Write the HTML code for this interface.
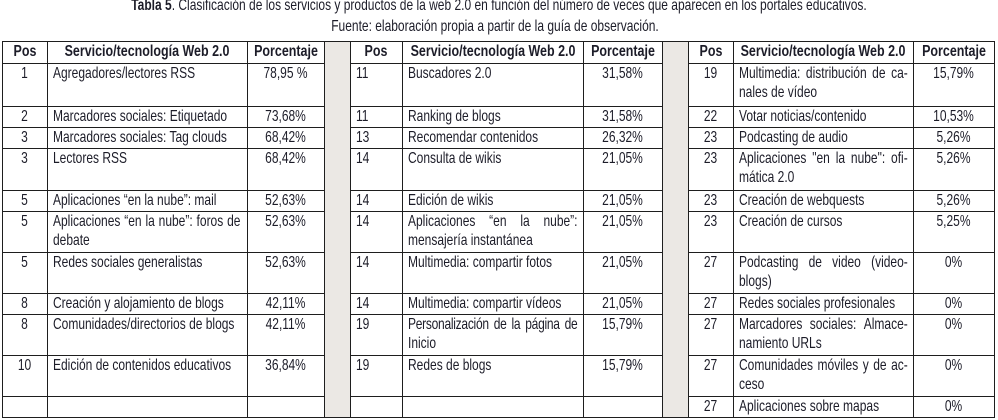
<!DOCTYPE html>
<html><head><meta charset="utf-8">
<style>
html,body{margin:0;padding:0;background:#fff;}
#w{position:relative;width:998px;height:420px;overflow:hidden;background:#fff;}
.t{position:absolute;font-family:"Liberation Sans",sans-serif;font-size:16px;line-height:18.5px;color:#1c1c28;white-space:nowrap;transform:scaleX(0.75);transform-origin:0 0;}
.c{text-align:center;transform-origin:50% 0;}
.h{font-weight:bold;text-align:center;transform:scaleX(0.78);transform-origin:50% 0;width:300px;}
.j{display:flex;justify-content:space-between;}
.hl{position:absolute;height:1px;background:#1e1e1e;}
.vl{position:absolute;width:1px;background:#1e1e1e;top:41px;height:377px;}
.g{position:absolute;background:#ebe8e4;top:41px;height:376px;width:26px;}
.ti{position:absolute;left:0;width:998px;text-align:center;font-family:"Liberation Sans",sans-serif;font-size:16px;line-height:18.5px;color:#1c1c28;white-space:nowrap;transform:scaleX(0.75);transform-origin:50% 0;}
</style></head><body><div id="w">

<div class="ti" style="top:-2.8px;left:-150px;width:1298px;"><b>Tabla 5</b>. Clasificación de los servicios y productos de la web 2.0 en función del número de veces que aparecen en los portales educativos.</div>
<div class="ti" style="top:18.2px;left:-4px;">Fuente: elaboración propia a partir de la guía de observación.</div>

<!-- gray bands -->
<div class="g" style="left:324px;"></div>
<div class="g" style="left:662px;"></div>

<!-- outer horizontal -->
<div class="hl" style="left:2px;width:993px;top:41px;"></div>
<div class="hl" style="left:2px;width:993px;top:417px;"></div>

<!-- panel horizontals -->
<div class="hl" style="left:2px;width:322px;top:63px;"></div><div class="hl" style="left:350px;width:312px;top:63px;"></div><div class="hl" style="left:688px;width:306px;top:63px;"></div>
<div class="hl" style="left:2px;width:322px;top:106px;"></div><div class="hl" style="left:350px;width:312px;top:106px;"></div><div class="hl" style="left:688px;width:306px;top:106px;"></div>
<div class="hl" style="left:2px;width:322px;top:127px;"></div><div class="hl" style="left:350px;width:312px;top:127px;"></div><div class="hl" style="left:688px;width:306px;top:127px;"></div>
<div class="hl" style="left:2px;width:322px;top:148px;"></div><div class="hl" style="left:350px;width:312px;top:148px;"></div><div class="hl" style="left:688px;width:306px;top:148px;"></div>
<div class="hl" style="left:2px;width:322px;top:190px;"></div><div class="hl" style="left:350px;width:312px;top:190px;"></div><div class="hl" style="left:688px;width:306px;top:190px;"></div>
<div class="hl" style="left:2px;width:322px;top:211px;"></div><div class="hl" style="left:350px;width:312px;top:211px;"></div><div class="hl" style="left:688px;width:306px;top:211px;"></div>
<div class="hl" style="left:2px;width:322px;top:252px;"></div><div class="hl" style="left:350px;width:312px;top:252px;"></div><div class="hl" style="left:688px;width:306px;top:252px;"></div>
<div class="hl" style="left:2px;width:322px;top:293px;"></div><div class="hl" style="left:350px;width:312px;top:293px;"></div><div class="hl" style="left:688px;width:306px;top:293px;"></div>
<div class="hl" style="left:2px;width:322px;top:314px;"></div><div class="hl" style="left:350px;width:312px;top:314px;"></div><div class="hl" style="left:688px;width:306px;top:314px;"></div>
<div class="hl" style="left:2px;width:322px;top:355px;"></div><div class="hl" style="left:350px;width:312px;top:355px;"></div><div class="hl" style="left:688px;width:306px;top:355px;"></div>
<div class="hl" style="left:2px;width:322px;top:396px;"></div><div class="hl" style="left:350px;width:312px;top:396px;"></div><div class="hl" style="left:688px;width:306px;top:396px;"></div>

<!-- verticals -->
<div class="vl" style="left:2px;"></div>
<div class="vl" style="left:47px;"></div>
<div class="vl" style="left:247px;"></div>
<div class="vl" style="left:324px;"></div>
<div class="vl" style="left:350px;"></div>
<div class="vl" style="left:402px;"></div>
<div class="vl" style="left:583px;"></div>
<div class="vl" style="left:662px;"></div>
<div class="vl" style="left:688px;"></div>
<div class="vl" style="left:733px;"></div>
<div class="vl" style="left:913px;"></div>
<div class="vl" style="left:994px;"></div>

<!-- headers (centered on column centers) -->
<div class="t h" style="left:-125.5px;top:43.2px;">Pos</div>
<div class="t h" style="left:-3px;top:43.2px;">Servicio/tecnología Web 2.0</div>
<div class="t h" style="left:135.5px;top:43.2px;">Porcentaje</div>
<div class="t h" style="left:226px;top:43.2px;">Pos</div>
<div class="t h" style="left:342.5px;top:43.2px;">Servicio/tecnología Web 2.0</div>
<div class="t h" style="left:472.5px;top:43.2px;">Porcentaje</div>
<div class="t h" style="left:560.5px;top:43.2px;">Pos</div>
<div class="t h" style="left:673px;top:43.2px;">Servicio/tecnología Web 2.0</div>
<div class="t h" style="left:803.5px;top:43.2px;">Porcentaje</div>

<!-- LEFT PANEL -->
<div class="t c" style="left:2px;width:45px;top:65.2px;">1</div>
<div class="t" style="left:53px;top:65.2px;">Agregadores/lectores RSS</div>
<div class="t c" style="left:247px;width:77px;top:65.2px;">78,95 %</div>

<div class="t c" style="left:2px;width:45px;top:108.2px;">2</div>
<div class="t" style="left:53px;top:108.2px;">Marcadores sociales: Etiquetado</div>
<div class="t c" style="left:247px;width:77px;top:108.2px;">73,68%</div>

<div class="t c" style="left:2px;width:45px;top:129.2px;">3</div>
<div class="t" style="left:53px;top:129.2px;">Marcadores sociales: Tag clouds</div>
<div class="t c" style="left:247px;width:77px;top:129.2px;">68,42%</div>

<div class="t c" style="left:2px;width:45px;top:150.2px;">3</div>
<div class="t" style="left:53px;top:150.2px;">Lectores RSS</div>
<div class="t c" style="left:247px;width:77px;top:150.2px;">68,42%</div>

<div class="t c" style="left:2px;width:45px;top:192.2px;">5</div>
<div class="t" style="left:53px;top:192.2px;">Aplicaciones “en la nube”: mail</div>
<div class="t c" style="left:247px;width:77px;top:192.2px;">52,63%</div>

<div class="t c" style="left:2px;width:45px;top:213.2px;">5</div>
<div class="t j" style="left:53px;width:250px;top:213.2px;"><span>Aplicaciones</span><span>“en</span><span>la</span><span>nube”:</span><span>foros</span><span>de</span></div>
<div class="t" style="left:53px;top:231.7px;">debate</div>
<div class="t c" style="left:247px;width:77px;top:213.2px;">52,63%</div>

<div class="t c" style="left:2px;width:45px;top:254.2px;">5</div>
<div class="t" style="left:53px;top:254.2px;">Redes sociales generalistas</div>
<div class="t c" style="left:247px;width:77px;top:254.2px;">52,63%</div>

<div class="t c" style="left:2px;width:45px;top:295.2px;">8</div>
<div class="t" style="left:53px;top:295.2px;">Creación y alojamiento de blogs</div>
<div class="t c" style="left:247px;width:77px;top:295.2px;">42,11%</div>

<div class="t c" style="left:2px;width:45px;top:316.2px;">8</div>
<div class="t" style="left:53px;top:316.2px;">Comunidades/directorios de blogs</div>
<div class="t c" style="left:247px;width:77px;top:316.2px;">42,11%</div>

<div class="t c" style="left:2px;width:45px;top:357.2px;">10</div>
<div class="t" style="left:53px;top:357.2px;">Edición de contenidos educativos</div>
<div class="t c" style="left:247px;width:77px;top:357.2px;">36,84%</div>

<!-- MIDDLE PANEL -->
<div class="t" style="left:356px;top:65.2px;">11</div>
<div class="t" style="left:408px;top:65.2px;">Buscadores 2.0</div>
<div class="t c" style="left:583px;width:79px;top:65.2px;">31,58%</div>

<div class="t" style="left:356px;top:108.2px;">11</div>
<div class="t" style="left:408px;top:108.2px;">Ranking de blogs</div>
<div class="t c" style="left:583px;width:79px;top:108.2px;">31,58%</div>

<div class="t" style="left:356px;top:129.2px;">13</div>
<div class="t" style="left:408px;top:129.2px;">Recomendar contenidos</div>
<div class="t c" style="left:583px;width:79px;top:129.2px;">26,32%</div>

<div class="t" style="left:356px;top:150.2px;">14</div>
<div class="t" style="left:408px;top:150.2px;">Consulta de wikis</div>
<div class="t c" style="left:583px;width:79px;top:150.2px;">21,05%</div>

<div class="t" style="left:356px;top:192.2px;">14</div>
<div class="t" style="left:408px;top:192.2px;">Edición de wikis</div>
<div class="t c" style="left:583px;width:79px;top:192.2px;">21,05%</div>

<div class="t" style="left:356px;top:213.2px;">14</div>
<div class="t j" style="left:408px;width:226px;top:213.2px;"><span>Aplicaciones</span><span>“en</span><span>la</span><span>nube”:</span></div>
<div class="t" style="left:408px;top:231.7px;">mensajería instantánea</div>
<div class="t c" style="left:583px;width:79px;top:213.2px;">21,05%</div>

<div class="t" style="left:356px;top:254.2px;">14</div>
<div class="t" style="left:408px;top:254.2px;">Multimedia: compartir fotos</div>
<div class="t c" style="left:583px;width:79px;top:254.2px;">21,05%</div>

<div class="t" style="left:356px;top:295.2px;">14</div>
<div class="t" style="left:408px;top:295.2px;">Multimedia: compartir vídeos</div>
<div class="t c" style="left:583px;width:79px;top:295.2px;">21,05%</div>

<div class="t" style="left:356px;top:316.2px;">19</div>
<div class="t j" style="left:408px;width:226px;top:316.2px;letter-spacing:-0.35px;"><span>Personalización</span><span>de</span><span>la</span><span>página</span><span>de</span></div>
<div class="t" style="left:408px;top:334.7px;">Inicio</div>
<div class="t c" style="left:583px;width:79px;top:316.2px;">15,79%</div>

<div class="t" style="left:356px;top:357.2px;">19</div>
<div class="t" style="left:408px;top:357.2px;">Redes de blogs</div>
<div class="t c" style="left:583px;width:79px;top:357.2px;">15,79%</div>

<!-- RIGHT PANEL -->
<div class="t c" style="left:688px;width:45px;top:65.2px;">19</div>
<div class="t j" style="left:739px;width:225px;top:65.2px;"><span>Multimedia:</span><span>distribución</span><span>de</span><span>ca-</span></div>
<div class="t" style="left:739px;top:83.7px;">nales de vídeo</div>
<div class="t c" style="left:913px;width:81px;top:65.2px;">15,79%</div>

<div class="t c" style="left:688px;width:45px;top:108.2px;">22</div>
<div class="t" style="left:739px;top:108.2px;">Votar noticias/contenido</div>
<div class="t c" style="left:913px;width:81px;top:108.2px;">10,53%</div>

<div class="t c" style="left:688px;width:45px;top:129.2px;">23</div>
<div class="t" style="left:739px;top:129.2px;">Podcasting de audio</div>
<div class="t c" style="left:913px;width:81px;top:129.2px;">5,26%</div>

<div class="t c" style="left:688px;width:45px;top:150.2px;">23</div>
<div class="t j" style="left:739px;width:225px;top:150.2px;"><span>Aplicaciones</span><span>"en</span><span>la</span><span>nube":</span><span>ofi-</span></div>
<div class="t" style="left:739px;top:168.7px;">mática 2.0</div>
<div class="t c" style="left:913px;width:81px;top:150.2px;">5,26%</div>

<div class="t c" style="left:688px;width:45px;top:192.2px;">23</div>
<div class="t" style="left:739px;top:192.2px;">Creación de webquests</div>
<div class="t c" style="left:913px;width:81px;top:192.2px;">5,26%</div>

<div class="t c" style="left:688px;width:45px;top:213.2px;">23</div>
<div class="t" style="left:739px;top:213.2px;">Creación de cursos</div>
<div class="t c" style="left:913px;width:81px;top:213.2px;">5,25%</div>

<div class="t c" style="left:688px;width:45px;top:254.2px;">27</div>
<div class="t j" style="left:739px;width:225px;top:254.2px;"><span>Podcasting</span><span>de</span><span>video</span><span>(video-</span></div>
<div class="t" style="left:739px;top:272.7px;">blogs)</div>
<div class="t c" style="left:913px;width:81px;top:254.2px;">0%</div>

<div class="t c" style="left:688px;width:45px;top:295.2px;">27</div>
<div class="t" style="left:739px;top:295.2px;">Redes sociales profesionales</div>
<div class="t c" style="left:913px;width:81px;top:295.2px;">0%</div>

<div class="t c" style="left:688px;width:45px;top:316.2px;">27</div>
<div class="t j" style="left:739px;width:225px;top:316.2px;"><span>Marcadores</span><span>sociales:</span><span>Almace-</span></div>
<div class="t" style="left:739px;top:334.7px;">namiento URLs</div>
<div class="t c" style="left:913px;width:81px;top:316.2px;">0%</div>

<div class="t c" style="left:688px;width:45px;top:357.2px;">27</div>
<div class="t j" style="left:739px;width:225px;top:357.2px;"><span>Comunidades</span><span>móviles</span><span>y</span><span>de</span><span>ac-</span></div>
<div class="t" style="left:739px;top:375.7px;">ceso</div>
<div class="t c" style="left:913px;width:81px;top:357.2px;">0%</div>

<div class="t c" style="left:688px;width:45px;top:398.2px;">27</div>
<div class="t" style="left:739px;top:398.2px;">Aplicaciones sobre mapas</div>
<div class="t c" style="left:913px;width:81px;top:398.2px;">0%</div>

</div></body></html>
